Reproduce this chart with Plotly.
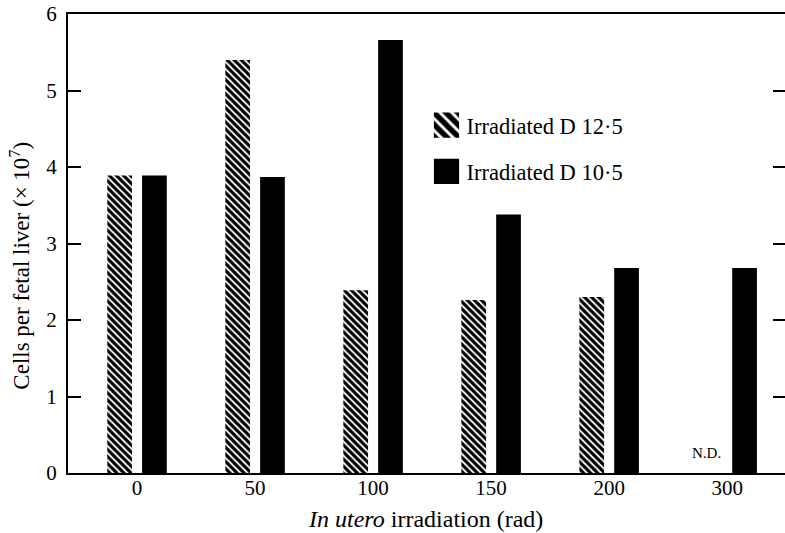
import plotly.graph_objects as go

# ---- data ----
categories = ["0", "50", "100", "150", "200", "300"]
irradiated_d12_5 = [3.89, 5.40, 2.39, 2.26, 2.30, None]   # None = N.D.
irradiated_d10_5 = [3.89, 3.87, 5.66, 3.38, 2.68, 2.68]
y_ticks = [0, 1, 2, 3, 4, 5, 6]

FONT = "Liberation Serif, Times New Roman, serif"

fig = go.Figure()
fig.add_trace(go.Bar(
    x=categories, y=irradiated_d12_5, name="Irradiated D 12·5",
    legendgroup="a",
    marker=dict(color="white", line=dict(width=0),
                pattern=dict(shape="\\", fgcolor="black", bgcolor="white",
                             size=5, solidity=0.65, fillmode="replace")),
))
fig.add_trace(go.Bar(
    x=categories, y=irradiated_d10_5, name="Irradiated D 10·5",
    legendgroup="b",
    marker=dict(color="black", line=dict(width=0)),
))
# empty trace to activate right-hand tick axis
fig.add_trace(go.Scatter(x=[], y=[], yaxis="y2", showlegend=False, hoverinfo="skip"))

fig.update_layout(
    width=785, height=533,
    margin=dict(l=68, r=0, t=14, b=60),
    paper_bgcolor="white", plot_bgcolor="white",
    font=dict(family=FONT, size=21, color="black"),
    barmode="group", bargap=0.41, bargroupgap=0.29,
    showlegend=True,
    legend=dict(x=0.50, y=0.804, xanchor="left", yanchor="top",
                bgcolor="rgba(0,0,0,0)", font=dict(size=22.5, family=FONT),
                tracegroupgap=14, traceorder="grouped"),
    xaxis=dict(range=[-0.585, 5.49], showline=True, linecolor="black", linewidth=2,
               mirror=True, ticks="", showgrid=False, zeroline=False,
               tickfont=dict(size=21), ticklabelstandoff=-5),
    yaxis=dict(range=[0, 6], tickvals=y_ticks, showline=True, linecolor="black",
               linewidth=2, ticks="inside", ticklen=13, tickwidth=2, tickcolor="black",
               showgrid=False, zeroline=False, tickfont=dict(size=21),
               ticklabelstandoff=5, ticklabeloverflow="allow"),
    yaxis2=dict(range=[0, 6], tickvals=y_ticks, overlaying="y", side="right",
                showline=False, ticks="inside", ticklen=12, tickwidth=2,
                tickcolor="black", showticklabels=False, showgrid=False,
                zeroline=False),
    annotations=[
        dict(text="Cells per fetal liver (× 10<sup>7</sup>)", textangle=-90,
             xref="paper", yref="paper", x=-0.066, y=0.451,
             xanchor="center", yanchor="middle", showarrow=False,
             font=dict(size=23, family=FONT)),
        dict(text="<i>In utero</i> irradiation (rad)",
             xref="paper", yref="paper", x=0.498, y=-0.100,
             xanchor="center", yanchor="middle", showarrow=False,
             font=dict(size=24, family=FONT)),
        dict(text="N.D.", xref="x", yref="y", x=5, y=0, xshift=-21,
             xanchor="center", yanchor="bottom", yshift=10, showarrow=False,
             font=dict(size=15, family=FONT)),
    ],
)

post = """
document.body.style.margin = '0px';
var gd = document.getElementById('{plot_id}');
function bigLegend(){
  gd.querySelectorAll('.legendpoints path').forEach(function(p){
    var t = p.getAttribute('data-orig-t');
    if (t === null) { t = p.getAttribute('transform') || ''; p.setAttribute('data-orig-t', t); }
    p.setAttribute('transform', t + ' scale(2.1)');
  });
}
bigLegend();
gd.on('plotly_afterplot', bigLegend);
"""

fig.write_html("out.html", post_script=post, config={"displayModeBar": False})
